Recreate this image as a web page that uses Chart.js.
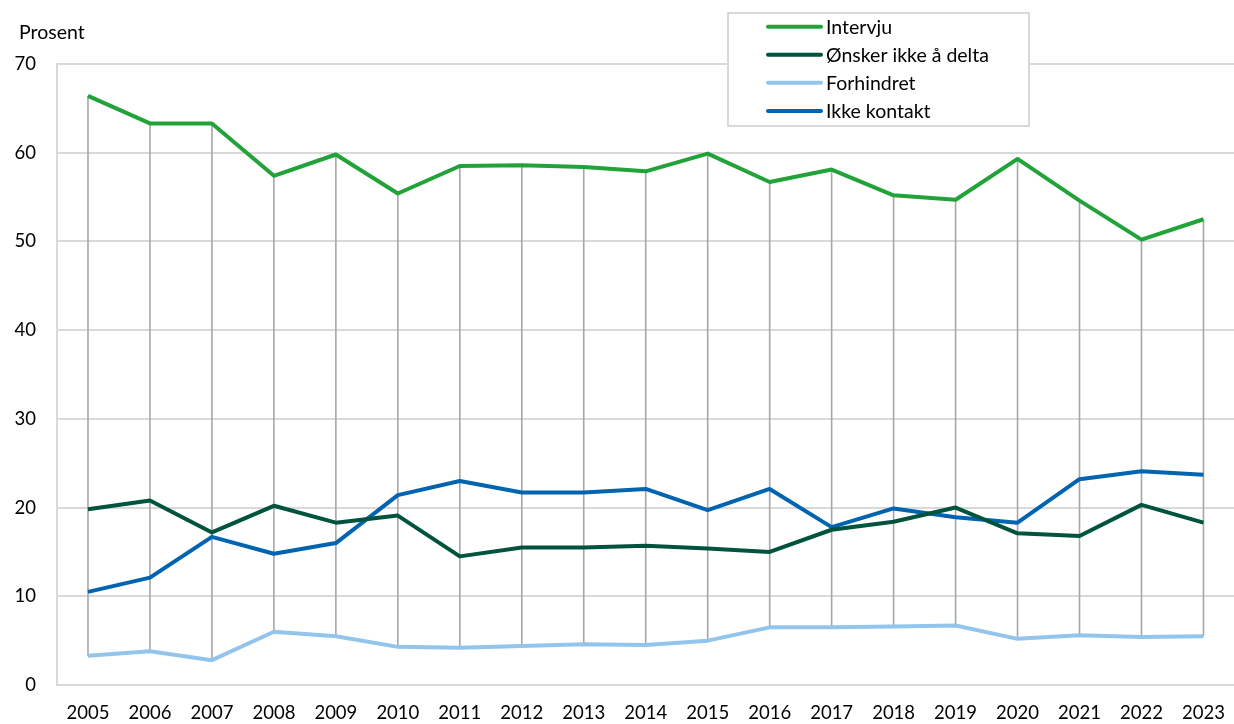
<!DOCTYPE html>
<html>
<head>
<meta charset="utf-8">
<script src="https://cdn.jsdelivr.net/npm/chart.js@4/dist/chart.umd.min.js"></script>
<style>
html,body{margin:0;padding:0;background:#fff;overflow:hidden;}
canvas{display:block;}
</style>
</head>
<body>
<canvas id="c" width="1242" height="724"></canvas>
<script>
const years = ["2005","2006","2007","2008","2009","2010","2011","2012","2013","2014","2015","2016","2017","2018","2019","2020","2021","2022","2023"];
const intervju = [66.4,63.3,63.3,57.4,59.8,55.4,58.5,58.6,58.4,57.9,59.9,56.7,58.1,55.2,54.7,59.3,54.6,50.2,52.5];
const onskerIkke = [19.8,20.8,17.2,20.2,18.3,19.1,14.5,15.5,15.5,15.7,15.4,15.0,17.5,18.4,20.0,17.1,16.8,20.3,18.3];
const forhindret = [3.3,3.8,2.8,6.0,5.5,4.3,4.2,4.4,4.6,4.5,5.0,6.5,6.5,6.6,6.7,5.2,5.6,5.4,5.5];
const ikkeKontakt = [10.5,12.1,16.7,14.8,16.0,21.4,23.0,21.7,21.7,22.1,19.7,22.1,17.8,19.9,18.9,18.3,23.2,24.1,23.7];
const yTicks = [0,10,20,30,40,50,60,70];
const seriesNames = ["Intervju","Ønsker ikke å delta","Forhindret","Ikke kontakt"];
const seriesColors = ["#21a339","#00543e","#93c5ec","#0064b0"];

const FONT = "Lato, 'Open Sans', sans-serif";

const hiLoPlugin = {
  id: 'hiLo',
  beforeDatasetsDraw(chart) {
    const ctx = chart.ctx, xs = chart.scales.x, ys = chart.scales.y;
    ctx.save();
    ctx.strokeStyle = '#a6a6a6';
    ctx.lineWidth = 1.6;
    years.forEach((y, i) => {
      const vals = chart.data.datasets.map(d => d.data[i]);
      const hi = Math.max(...vals), lo = Math.min(...vals);
      const x = xs.getPixelForValue(i);
      ctx.beginPath();
      ctx.moveTo(x, ys.getPixelForValue(hi));
      ctx.lineTo(x, ys.getPixelForValue(lo));
      ctx.stroke();
    });
    ctx.restore();
  }
};

const decoPlugin = {
  id: 'deco',
  afterDraw(chart) {
    const ctx = chart.ctx;
    ctx.save();
    ctx.font = "19.5px " + FONT;
    ctx.fillStyle = '#000';
    ctx.textBaseline = 'middle';
    ctx.textAlign = 'left';
    ctx.fillText('Prosent', 19, 33);
    // legend box
    ctx.fillStyle = '#fff';
    ctx.fillRect(728, 13, 301, 113);
    ctx.strokeStyle = '#d9d9d9';
    ctx.lineWidth = 2;
    ctx.strokeRect(728, 13, 301, 113);
    const rowsY = [26.7, 54.7, 82.7, 111];
    chart.data.datasets.forEach((d, i) => {
      ctx.strokeStyle = d.borderColor;
      ctx.lineWidth = 4;
      ctx.lineCap = 'round';
      ctx.beginPath();
      ctx.moveTo(768, rowsY[i]);
      ctx.lineTo(821, rowsY[i]);
      ctx.stroke();
      ctx.fillStyle = '#000';
      ctx.fillText(d.label, 826, rowsY[i] + 1);
    });
    ctx.restore();
  }
};

const datasets = [intervju, onskerIkke, forhindret, ikkeKontakt].map((arr, i) => ({
  label: seriesNames[i],
  data: arr,
  borderColor: seriesColors[i],
  backgroundColor: seriesColors[i],
  borderWidth: 4,
  pointRadius: 0,
  tension: 0,
  fill: false,
  borderJoinStyle: 'round'
}));

new Chart(document.getElementById('c'), {
  type: 'line',
  data: { labels: years, datasets: datasets },
  options: {
    responsive: false,
    animation: false,
    devicePixelRatio: 1,
    layout: { padding: { top: 64, right: 3, left: 0, bottom: 0 } },
    plugins: { legend: { display: false }, tooltip: { enabled: false } },
    scales: {
      x: {
        type: 'category',
        offset: true,
        grid: { display: false, drawTicks: false },
        border: { display: false },
        ticks: { color: '#000', font: { family: FONT, size: 18.5 }, padding: 17, maxRotation: 0, autoSkip: false },
        afterFit(s) { s.height = 39; }
      },
      y: {
        min: 0, max: 70,
        afterBuildTicks(s) { s.ticks = yTicks.map(v => ({ value: v })); },
        grid: { color: '#d9d9d9', lineWidth: 2, drawTicks: false },
        border: { display: true, color: '#d9d9d9', width: 2 },
        ticks: { color: '#000', font: { family: FONT, size: 18.5 }, padding: 21 },
        afterFit(s) { s.width = 57; }
      }
    }
  },
  plugins: [hiLoPlugin, decoPlugin]
});
</script>
</body>
</html>
